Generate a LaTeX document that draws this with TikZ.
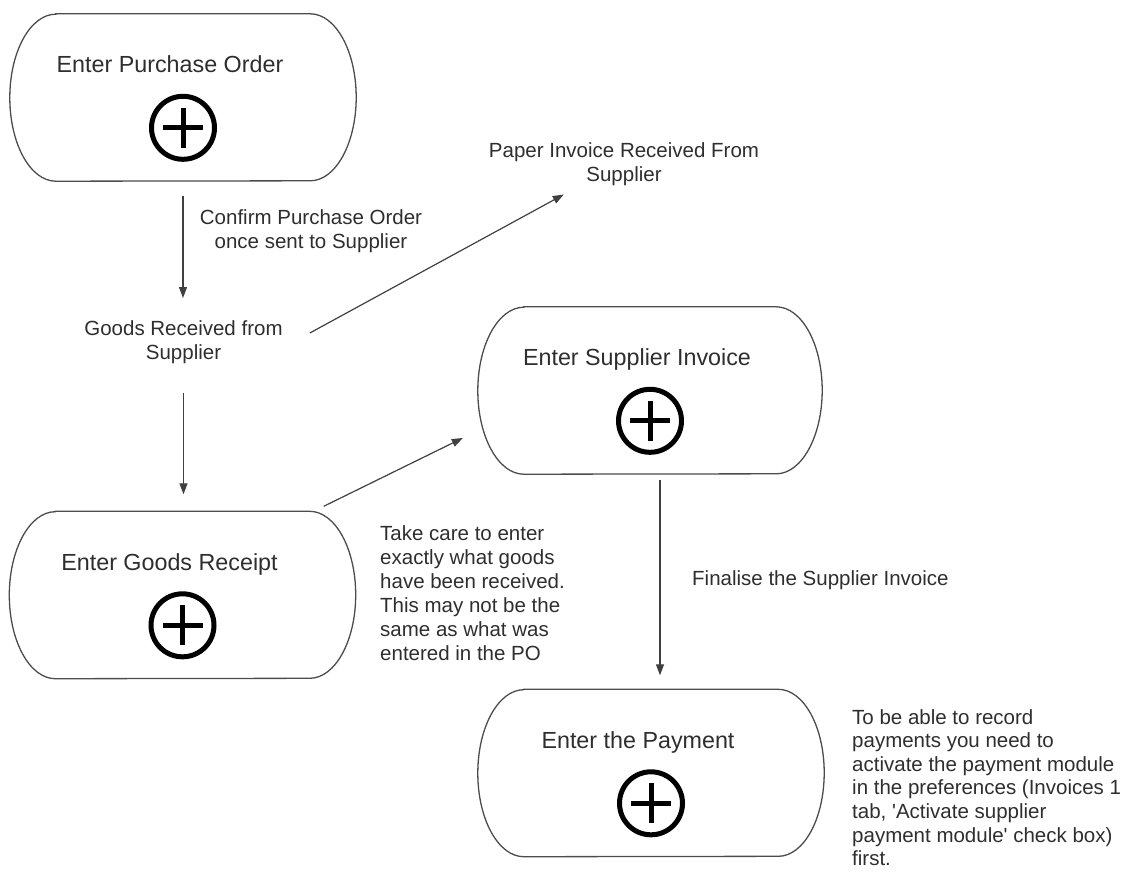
\documentclass[tikz,border=0pt]{standalone}
\usepackage{fontspec}
\setmainfont{Liberation Sans}
\usetikzlibrary{arrows.meta,calc}
\begin{document}
\begin{tikzpicture}[x=1pt,y=-1pt,
  boxline/.style={draw=black!70, line width=1.3pt},
  taskbox/.style={minimum width=346pt, minimum height=167pt, inner sep=0pt, draw=none},
  title/.style={font=\fontsize{23.3}{28}\selectfont, text=black!82, inner sep=0pt, anchor=north},
  lbl/.style={font=\fontsize{20.5}{24}\selectfont, text=black!82, inner sep=0pt},
  plusmark/.style={draw=black, line width=5pt},
  arr/.style={draw=black!75, line width=1.2pt, -{Triangle[length=11pt,width=8pt]}},
  ]
\useasboundingbox (0,0) rectangle (1126,873);

% task boxes
\node[taskbox] (po) at (183,97.5) {};
\node[taskbox] (gr) at (182.5,595) {};
\node[taskbox, minimum width=344pt] (si) at (650,390.5) {};
\node[taskbox] (pay) at (651,773) {};

\foreach \n/\t in {po/Enter Purchase Order, gr/Enter Goods Receipt, si/Enter Supplier Invoice, pay/Enter the Payment}{
  \draw[boxline] ($(\n.north west)+(46,0)$) -- ($(\n.north east)+(-46,0)$)
     arc[start angle=90, end angle=-90, x radius=46pt, y radius=83.5pt]
     -- ($(\n.south west)+(46,0)$)
     arc[start angle=270, end angle=90, x radius=46pt, y radius=83.5pt] -- cycle;
  \node[title] (\n-t) at ($(\n.north)+(-13,42)$) {\t};
  \draw[plusmark] ($(\n.north)+(0,114)$) circle[radius=31.5pt];
  \draw[plusmark] ($(\n.north)+(-20,114)$) -- ($(\n.north)+(20,114)$);
  \draw[plusmark] ($(\n.north)+(0,94)$) -- ($(\n.north)+(0,134)$);
}

% labels
\node[lbl, align=center, anchor=north] (confirm) at (311,209) {Confirm Purchase Order\\once sent to Supplier};
\node[lbl, align=center, anchor=north] (goods) at (183.5,320) {Goods Received from\\Supplier};
\node[lbl, align=center, anchor=north] (paper) at (624,142) {Paper Invoice Received From\\Supplier};
\node[lbl, align=left, anchor=north west] (care) at (380,525) {Take care to enter\\exactly what goods\\have been received.\\This may not be the\\same as what was\\entered in the PO};
\node[lbl, anchor=north west] (final) at (692,570) {Finalise the Supplier Invoice};
\node[lbl, font=\fontsize{20.5}{23.6}\selectfont, align=left, anchor=north west] (note) at (852,709) {To be able to record\\payments you need to\\activate the payment module\\in the preferences (Invoices 1\\tab, \textquotesingle Activate supplier\\payment module\textquotesingle\ check box)\\first.};

% connectors
\draw[arr, shorten <=15pt, shorten >=22pt] (po.south) -- (po.south |- goods.north);
\draw[arr] ($(goods.north east)+(27,13)$) -- ($(paper.south west)+(75,9)$);
\draw[arr, shorten <=29pt, shorten >=17pt] (goods.south) -- (goods.south |- gr.north);
\draw[arr] ($(gr.north east)+(-32,-5)$) -- ($(si.west)+(-15,47.5)$);
\draw[arr, shorten <=6pt, shorten >=14pt] ($(si.south)+(10,0)$) -- ($(pay.north)+(9,0)$);
\end{tikzpicture}
\end{document}
